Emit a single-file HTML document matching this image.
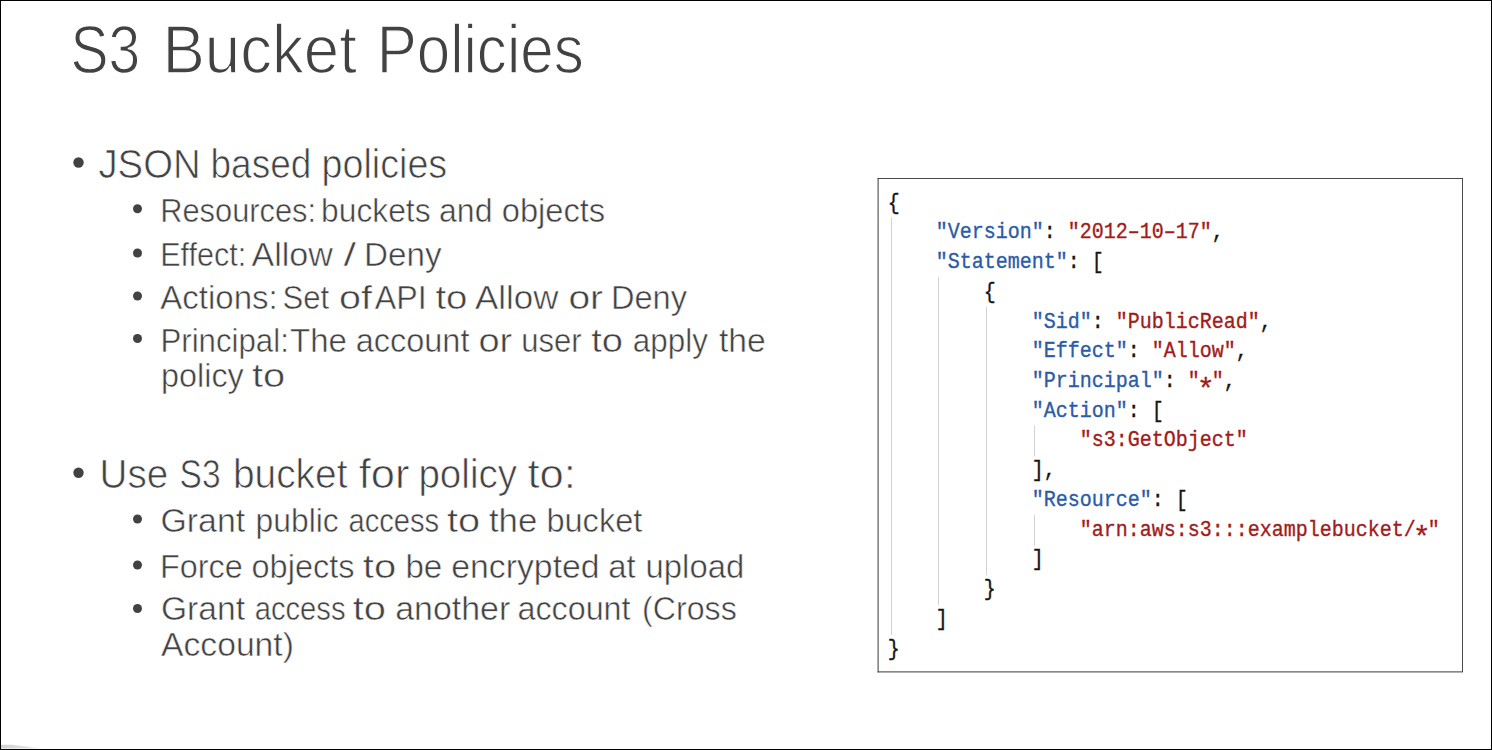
<!DOCTYPE html>
<html><head><meta charset="utf-8"><style>
html,body{margin:0;padding:0;background:#fff;}
body{width:1492px;height:750px;overflow:hidden;position:relative;}
svg{position:absolute;left:0;top:0;}
</style></head><body>
<svg width="1492" height="750" viewBox="0 0 1492 750">
<rect x="0" y="0" width="1492" height="750" fill="#fff"/>
<defs><linearGradient id="wg" x1="0" x2="1" y1="0" y2="0"><stop offset="0" stop-color="#d0d0d0"/><stop offset="0.6" stop-color="#e0e0e0"/><stop offset="1" stop-color="#fff"/></linearGradient></defs>
<polygon points="1,744.8 12,744.8 44,748.6 1,748.6" fill="url(#wg)"/>
<rect x="0.5" y="0.5" width="1491" height="749" fill="none" stroke="#000" stroke-width="1"/>
<g style='font-family:"Liberation Sans",sans-serif'>
<circle cx="78.5" cy="162.5" r="5.2" fill="#424242"/>
<circle cx="78.5" cy="472.7" r="5.2" fill="#424242"/>
<circle cx="137.5" cy="208.7" r="4.5" fill="#424242"/>
<circle cx="137.5" cy="253" r="4.5" fill="#424242"/>
<circle cx="137.5" cy="296" r="4.5" fill="#424242"/>
<circle cx="137.5" cy="338.5" r="4.5" fill="#424242"/>
<circle cx="137.5" cy="519" r="4.5" fill="#424242"/>
<circle cx="137.5" cy="565" r="4.5" fill="#424242"/>
<circle cx="137.5" cy="608.5" r="4.5" fill="#424242"/>
<text transform="translate(70.54,73) scale(0.8141,0.99)" font-size="70" fill="#424242" stroke="#fff" stroke-width="1.4">S3</text>
<text transform="translate(162.45,73) scale(0.9087,0.99)" font-size="70" fill="#424242" stroke="#fff" stroke-width="1.4">Bucket</text>
<text transform="translate(376.65,73) scale(0.8586,0.99)" font-size="70" fill="#424242" stroke="#fff" stroke-width="1.4">Policies</text>
<text transform="translate(98.44,178) scale(0.9578,1.03)" font-size="40" fill="#424242" stroke="#fff" stroke-width="0.7">JSON</text>
<text transform="translate(210.52,178) scale(0.9262,1.03)" font-size="40" fill="#424242" stroke="#fff" stroke-width="0.7">based</text>
<text transform="translate(321.57,178) scale(0.9419,1.03)" font-size="40" fill="#424242" stroke="#fff" stroke-width="0.7">policies</text>
<text transform="translate(99.60,488) scale(0.9652,1.03)" font-size="40" fill="#424242" stroke="#fff" stroke-width="0.7">Use</text>
<text transform="translate(179.62,488) scale(0.8378,1.03)" font-size="40" fill="#424242" stroke="#fff" stroke-width="0.7">S3</text>
<text transform="translate(232.88,488) scale(0.9728,1.03)" font-size="40" fill="#424242" stroke="#fff" stroke-width="0.7">bucket</text>
<text transform="translate(358.71,488) scale(1.0867,1.03)" font-size="40" fill="#424242" stroke="#fff" stroke-width="0.7">for</text>
<text transform="translate(418.41,488) scale(0.9646,1.03)" font-size="40" fill="#424242" stroke="#fff" stroke-width="0.7">policy</text>
<text transform="translate(527.41,488) scale(1.0900,1.03)" font-size="40" fill="#424242" stroke="#fff" stroke-width="0.7">to:</text>
<text transform="translate(160.20,221.6) scale(0.9342,1.02)" font-size="33" fill="#424242" stroke="#fff" stroke-width="0.5">Resources:</text>
<text transform="translate(321.07,221.6) scale(0.9627,1.02)" font-size="33" fill="#424242" stroke="#fff" stroke-width="0.5">buckets</text>
<text transform="translate(439.06,221.6) scale(0.9706,1.02)" font-size="33" fill="#424242" stroke="#fff" stroke-width="0.5">and</text>
<text transform="translate(501.72,221.6) scale(0.9901,1.02)" font-size="33" fill="#424242" stroke="#fff" stroke-width="0.5">objects</text>
<text transform="translate(160.22,266) scale(0.9253,1.02)" font-size="33" fill="#424242" stroke="#fff" stroke-width="0.5">Effect:</text>
<text transform="translate(251.47,266) scale(1.0321,1.02)" font-size="33" fill="#424242" stroke="#fff" stroke-width="0.5">Allow</text>
<text transform="translate(343.62,266) scale(1.3750,1.02)" font-size="33" fill="#424242" stroke="#fff" stroke-width="0.5">/</text>
<text transform="translate(363.98,266) scale(1.0068,1.02)" font-size="33" fill="#424242" stroke="#fff" stroke-width="0.5">Deny</text>
<text transform="translate(160.30,309) scale(1.0009,1.02)" font-size="33" fill="#424242" stroke="#fff" stroke-width="0.5">Actions:</text>
<text transform="translate(282.51,309) scale(0.9426,1.02)" font-size="33" fill="#424242" stroke="#fff" stroke-width="0.5">Set</text>
<text transform="translate(339.01,309) scale(1.1960,1.02)" font-size="33" fill="#424242" stroke="#fff" stroke-width="0.5">of</text>
<text transform="translate(374.82,309) scale(0.9755,1.02)" font-size="33" fill="#424242" stroke="#fff" stroke-width="0.5">API</text>
<text transform="translate(435.44,309) scale(1.1640,1.02)" font-size="33" fill="#424242" stroke="#fff" stroke-width="0.5">to</text>
<text transform="translate(474.94,309) scale(1.0590,1.02)" font-size="33" fill="#424242" stroke="#fff" stroke-width="0.5">Allow</text>
<text transform="translate(568.44,309) scale(1.1815,1.02)" font-size="33" fill="#424242" stroke="#fff" stroke-width="0.5">or</text>
<text transform="translate(610.94,309) scale(0.9878,1.02)" font-size="33" fill="#424242" stroke="#fff" stroke-width="0.5">Deny</text>
<text transform="translate(160.46,352.2) scale(0.9462,1.02)" font-size="33" fill="#424242" stroke="#fff" stroke-width="0.5">Principal:</text>
<text transform="translate(290.00,352.2) scale(1.0000,1.02)" font-size="33" fill="#424242" stroke="#fff" stroke-width="0.5">The</text>
<text transform="translate(355.63,352.2) scale(0.9850,1.02)" font-size="33" fill="#424242" stroke="#fff" stroke-width="0.5">account</text>
<text transform="translate(478.40,352.2) scale(1.1519,1.02)" font-size="33" fill="#424242" stroke="#fff" stroke-width="0.5">or</text>
<text transform="translate(521.32,352.2) scale(0.9403,1.02)" font-size="33" fill="#424242" stroke="#fff" stroke-width="0.5">user</text>
<text transform="translate(591.14,352.2) scale(1.1560,1.02)" font-size="33" fill="#424242" stroke="#fff" stroke-width="0.5">to</text>
<text transform="translate(632.80,352.2) scale(0.9519,1.02)" font-size="33" fill="#424242" stroke="#fff" stroke-width="0.5">apply</text>
<text transform="translate(718.88,352.2) scale(1.0209,1.02)" font-size="33" fill="#424242" stroke="#fff" stroke-width="0.5">the</text>
<text transform="translate(161.04,387.2) scale(0.9805,1.02)" font-size="33" fill="#424242" stroke="#fff" stroke-width="0.5">policy</text>
<text transform="translate(251.89,387.2) scale(1.2080,1.02)" font-size="33" fill="#424242" stroke="#fff" stroke-width="0.5">to</text>
<text transform="translate(160.45,532) scale(1.0262,1.02)" font-size="33" fill="#424242" stroke="#fff" stroke-width="0.5">Grant</text>
<text transform="translate(255.57,532) scale(0.9651,1.02)" font-size="33" fill="#424242" stroke="#fff" stroke-width="0.5">public</text>
<text transform="translate(348.43,532) scale(0.8838,1.02)" font-size="33" fill="#424242" stroke="#fff" stroke-width="0.5">access</text>
<text transform="translate(447.00,532) scale(1.2040,1.02)" font-size="33" fill="#424242" stroke="#fff" stroke-width="0.5">to</text>
<text transform="translate(488.95,532) scale(1.0535,1.02)" font-size="33" fill="#424242" stroke="#fff" stroke-width="0.5">the</text>
<text transform="translate(546.43,532) scale(0.9863,1.02)" font-size="33" fill="#424242" stroke="#fff" stroke-width="0.5">bucket</text>
<text transform="translate(160.06,577.6) scale(0.9812,1.02)" font-size="33" fill="#424242" stroke="#fff" stroke-width="0.5">Force</text>
<text transform="translate(251.53,577.6) scale(0.9851,1.02)" font-size="33" fill="#424242" stroke="#fff" stroke-width="0.5">objects</text>
<text transform="translate(362.79,577.6) scale(1.2120,1.02)" font-size="33" fill="#424242" stroke="#fff" stroke-width="0.5">to</text>
<text transform="translate(405.39,577.6) scale(1.0030,1.02)" font-size="33" fill="#424242" stroke="#fff" stroke-width="0.5">be</text>
<text transform="translate(451.25,577.6) scale(1.0241,1.02)" font-size="33" fill="#424242" stroke="#fff" stroke-width="0.5">encrypted</text>
<text transform="translate(608.21,577.6) scale(0.9960,1.02)" font-size="33" fill="#424242" stroke="#fff" stroke-width="0.5">at</text>
<text transform="translate(645.61,577.6) scale(0.9947,1.02)" font-size="33" fill="#424242" stroke="#fff" stroke-width="0.5">upload</text>
<text transform="translate(160.96,620.3) scale(1.0188,1.02)" font-size="33" fill="#424242" stroke="#fff" stroke-width="0.5">Grant</text>
<text transform="translate(254.73,620.3) scale(0.8838,1.02)" font-size="33" fill="#424242" stroke="#fff" stroke-width="0.5">access</text>
<text transform="translate(352.79,620.3) scale(1.2080,1.02)" font-size="33" fill="#424242" stroke="#fff" stroke-width="0.5">to</text>
<text transform="translate(395.24,620.3) scale(1.0275,1.02)" font-size="33" fill="#424242" stroke="#fff" stroke-width="0.5">another</text>
<text transform="translate(517.44,620.3) scale(0.9788,1.02)" font-size="33" fill="#424242" stroke="#fff" stroke-width="0.5">account</text>
<text transform="translate(642.05,620.3) scale(0.9745,1.02)" font-size="33" fill="#424242" stroke="#fff" stroke-width="0.5">(Cross</text>
<text transform="translate(160.98,655.8) scale(1.0213,1.02)" font-size="33" fill="#424242" stroke="#fff" stroke-width="0.5">Account)</text>
</g>
<rect x="877.6" y="178" width="585.4" height="1" fill="#4a4a4a"/>
<rect x="1462" y="178" width="1" height="494" fill="#4a4a4a"/>
<rect x="877.6" y="178" width="1" height="494.4" fill="#3a3a3a"/>
<rect x="877.6" y="671.4" width="585.4" height="1" fill="#3a3a3a"/>
<rect x="891" y="217.6" width="1" height="417.2" fill="#d2d2d2"/>
<rect x="938" y="277.1" width="1" height="328.0" fill="#d2d2d2"/>
<rect x="986" y="306.8" width="1" height="268.6" fill="#d2d2d2"/>
<rect x="1034" y="425.7" width="1" height="30.7" fill="#d2d2d2"/>
<rect x="1034" y="514.9" width="1" height="30.7" fill="#d2d2d2"/>
<g style='font-family:"Liberation Mono",monospace'>
<text transform="translate(887.80,208.60) scale(0.9390,1)" font-size="21.3" stroke-width="0.35"><tspan fill="#151515" stroke="#151515">{</tspan></text>
<text transform="translate(935.80,238.33) scale(0.9390,1)" font-size="21.3" stroke-width="0.35"><tspan fill="#2c5ba6" stroke="#2c5ba6">"Version"</tspan><tspan fill="#151515" stroke="#151515">:&#160;</tspan><tspan fill="#a11b1b" stroke="#a11b1b">"2012–10–17"</tspan><tspan fill="#151515" stroke="#151515">,</tspan></text>
<text transform="translate(935.80,268.06) scale(0.9390,1)" font-size="21.3" stroke-width="0.35"><tspan fill="#2c5ba6" stroke="#2c5ba6">"Statement"</tspan><tspan fill="#151515" stroke="#151515">:&#160;[</tspan></text>
<text transform="translate(983.80,297.79) scale(0.9390,1)" font-size="21.3" stroke-width="0.35"><tspan fill="#151515" stroke="#151515">{</tspan></text>
<text transform="translate(1031.80,327.52) scale(0.9390,1)" font-size="21.3" stroke-width="0.35"><tspan fill="#2c5ba6" stroke="#2c5ba6">"Sid"</tspan><tspan fill="#151515" stroke="#151515">:&#160;</tspan><tspan fill="#a11b1b" stroke="#a11b1b">"PublicRead"</tspan><tspan fill="#151515" stroke="#151515">,</tspan></text>
<text transform="translate(1031.80,357.25) scale(0.9390,1)" font-size="21.3" stroke-width="0.35"><tspan fill="#2c5ba6" stroke="#2c5ba6">"Effect"</tspan><tspan fill="#151515" stroke="#151515">:&#160;</tspan><tspan fill="#a11b1b" stroke="#a11b1b">"Allow"</tspan><tspan fill="#151515" stroke="#151515">,</tspan></text>
<text transform="translate(1031.80,386.98) scale(0.9390,1)" font-size="21.3" stroke-width="0.35"><tspan fill="#2c5ba6" stroke="#2c5ba6">"Principal"</tspan><tspan fill="#151515" stroke="#151515">:&#160;</tspan><tspan fill="#a11b1b" stroke="#a11b1b">"&#160;"</tspan><tspan fill="#151515" stroke="#151515">,</tspan></text>
<text x="1205.80" y="398.68" font-size="30" text-anchor="middle" fill="#a11b1b" stroke="#a11b1b" stroke-width="0.3">*</text>
<text transform="translate(1031.80,416.71) scale(0.9390,1)" font-size="21.3" stroke-width="0.35"><tspan fill="#2c5ba6" stroke="#2c5ba6">"Action"</tspan><tspan fill="#151515" stroke="#151515">:&#160;[</tspan></text>
<text transform="translate(1079.80,446.44) scale(0.9390,1)" font-size="21.3" stroke-width="0.35"><tspan fill="#a11b1b" stroke="#a11b1b">"s3:GetObject"</tspan></text>
<text transform="translate(1031.80,476.17) scale(0.9390,1)" font-size="21.3" stroke-width="0.35"><tspan fill="#151515" stroke="#151515">],</tspan></text>
<text transform="translate(1031.80,505.90) scale(0.9390,1)" font-size="21.3" stroke-width="0.35"><tspan fill="#2c5ba6" stroke="#2c5ba6">"Resource"</tspan><tspan fill="#151515" stroke="#151515">:&#160;[</tspan></text>
<text transform="translate(1079.80,535.63) scale(0.9390,1)" font-size="21.3" stroke-width="0.35"><tspan fill="#a11b1b" stroke="#a11b1b">"arn:aws:s3:::examplebucket/&#160;"</tspan></text>
<text x="1421.80" y="547.33" font-size="30" text-anchor="middle" fill="#a11b1b" stroke="#a11b1b" stroke-width="0.3">*</text>
<text transform="translate(1031.80,565.36) scale(0.9390,1)" font-size="21.3" stroke-width="0.35"><tspan fill="#151515" stroke="#151515">]</tspan></text>
<text transform="translate(983.80,595.09) scale(0.9390,1)" font-size="21.3" stroke-width="0.35"><tspan fill="#151515" stroke="#151515">}</tspan></text>
<text transform="translate(935.80,624.82) scale(0.9390,1)" font-size="21.3" stroke-width="0.35"><tspan fill="#151515" stroke="#151515">]</tspan></text>
<text transform="translate(887.80,654.55) scale(0.9390,1)" font-size="21.3" stroke-width="0.35"><tspan fill="#151515" stroke="#151515">}</tspan></text>
</g>
</svg>
</body></html>
